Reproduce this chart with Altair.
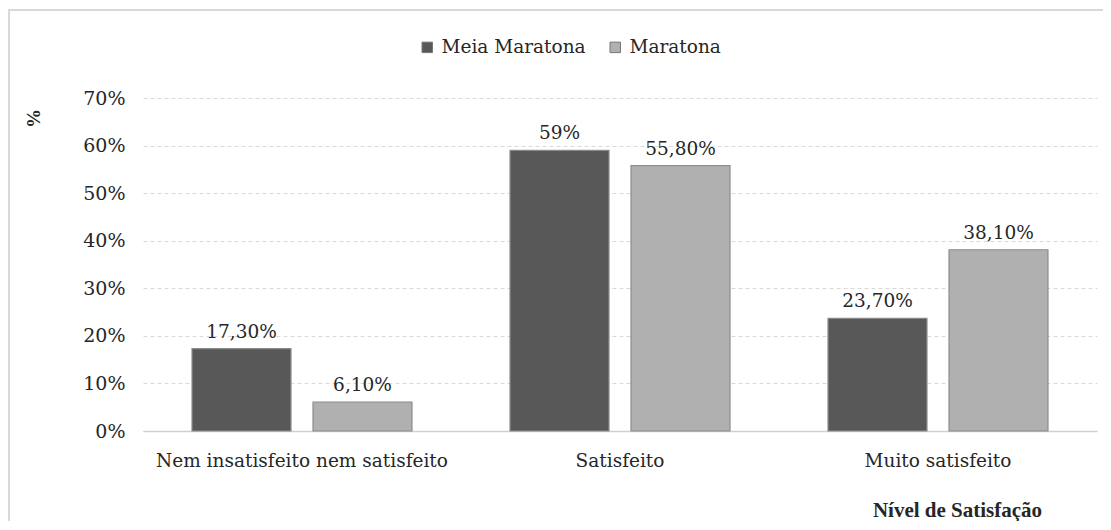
import altair as alt
import pandas as pd

categories = ["Nem insatisfeito nem satisfeito", "Satisfeito", "Muito satisfeito"]
series = ["Meia Maratona", "Maratona"]
meia = [0.173, 0.59, 0.237]
maratona = [0.061, 0.558, 0.381]
meia_labels = ["17,30%", "59%", "23,70%"]
maratona_labels = ["6,10%", "55,80%", "38,10%"]

rows = []
for i, c in enumerate(categories):
    rows.append({"cat": c, "serie": series[0], "v": meia[i], "lab": meia_labels[i]})
    rows.append({"cat": c, "serie": series[1], "v": maratona[i], "lab": maratona_labels[i]})
df = pd.DataFrame(rows)

FONT = "DejaVu Serif"
BFONT = "Liberation Serif"
TXT = "#262626"

x = alt.X("cat:N", sort=categories,
          scale=alt.Scale(paddingInner=0, paddingOuter=0),
          axis=alt.Axis(title="Nível de Satisfação", labelAngle=0, labelFontSize=18.5,
                        labelFont=FONT, labelColor=TXT, labelPadding=20, ticks=False,
                        labelLimit=0, grid=False,
                        domainColor="#d0d0d0", domainWidth=1.5,
                        titleFont=BFONT, titleFontSize=21, titleFontWeight="bold",
                        titleColor=TXT, titleX=814, titleY=79, titleAnchor="middle",
                        titleBaseline="middle", titleAlign="center"))
xo = alt.XOffset("serie:N", sort=series,
                 scale=alt.Scale(paddingInner=0.182, paddingOuter=0.405))
y = alt.Y("v:Q", scale=alt.Scale(domain=[0, 0.7]),
          axis=alt.Axis(title="%", format=".0%", values=[0, 0.1, 0.2, 0.3, 0.4, 0.5, 0.6, 0.7],
                        labelFont=FONT, labelFontSize=19, labelColor=TXT, labelPadding=18,
                        ticks=False, domain=False, gridColor="#d9d9d9", gridDash=[4, 3],
                        titleFont=BFONT, titleFontSize=19, titleFontWeight="bold",
                        titleColor=TXT, titleX=-110, titleY=20, titleAngle=-90,
                        titleAlign="center", titleBaseline="middle"))
color = alt.Color("serie:N", sort=series,
                  scale=alt.Scale(domain=series, range=["#585858", "#b0b0b0"]),
                  legend=alt.Legend(title=None, orient="none", legendX=275, legendY=-60,
                                    direction="horizontal", symbolType="square",
                                    symbolSize=110, symbolStrokeColor="#777", symbolStrokeWidth=1,
                                    labelFont=FONT, labelFontSize=18.5, labelColor=TXT,
                                    columnPadding=20, labelOffset=5))

base = alt.Chart(df).encode(x=x, xOffset=xo, y=y)
bars = base.mark_bar(stroke="#8c8c8c", strokeWidth=1.2).encode(color=color)
texts = base.mark_text(baseline="bottom", dy=-7, font=FONT, fontSize=18.5,
                       color=TXT).encode(text="lab:N")

frame = alt.Chart(df).mark_rect(fill=None, stroke="#d9d9d9", strokeWidth=2).encode(
    x=alt.value(-134), x2=alt.value(1000), y=alt.value(-88), y2=alt.value(460))

chart = alt.layer(bars, texts, frame).properties(
    width=954, height=333,
    autosize=alt.AutoSizeParams(type="none"),
    padding={"left": 135, "top": 90, "right": 6, "bottom": 90},
).configure(background="white", font=FONT).configure_view(strokeWidth=0)

chart.save("out.html", embed_options={"renderer": "svg", "actions": False})
